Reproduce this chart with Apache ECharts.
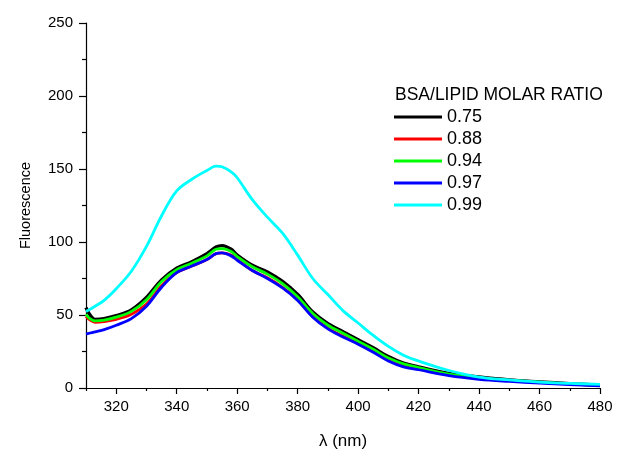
<!DOCTYPE html>
<html>
<head>
<meta charset="utf-8">
<script src="https://cdn.jsdelivr.net/npm/echarts@6/dist/echarts.min.js"></script>
<style>html,body{margin:0;padding:0;background:#fff;overflow:hidden;}#c{width:627px;height:455px;}</style>
</head>
<body>
<div id="c"></div>
<script>
const wavelength = [310,311,313,316,320,325,330,335,340,345,350,353,355,358,360,365,370,375,380,385,390,395,400,405,410,415,420,430,440,450,460,470,480];
const ratio075 = [55,51,47,47.5,49.5,53.5,62,74,82,86.5,92,96.5,97.5,95,91,84,79.5,73,64,52,44,38.5,33,27.5,21.5,17,14.5,10,7.5,5.5,4.2,3,2];
const ratio088 = [49,47,45,45.5,47,50.5,57.5,70,79,83.5,88,92,92.5,91,88,80.5,75.5,69,60.5,49,41,35.5,30.5,25,19.5,15,13,9,6.5,5,3.8,2.7,1.7];
const ratio094 = [50.5,48,46,46.5,48.5,52.5,60.5,73,81,85.5,90.5,95,95.5,93.5,90,83,78,71.5,62.5,51,43,37.5,32,26.5,20.5,16.5,14,9.5,7,5.2,4,2.8,1.8];
const ratio097 = [37,37.5,38.5,40,43,47.5,56,69,79,83.5,88,92,92.5,90.5,87.5,80.5,75,68.5,60,48.5,40.5,35,30,24.5,18.5,14.5,12.5,8.5,6,4.5,3.3,2.4,1.5];
const ratio099 = [52.5,53.5,56,60,68,80,97,118,135,143,149,152,151.5,148,144,129,117,106,91,75,64,53,44.5,36,28.5,22.5,18.5,12,7.5,5.5,4,3.2,2.5];
const seriesNames = ['0.75','0.88','0.94','0.97','0.99'];
const seriesColors = ['#000000','#ff0000','#00ff00','#0000ff','#00ffff'];
const seriesValues = [ratio075, ratio088, ratio094, ratio097, ratio099];
const xMajorTicks = [320,340,360,380,400,420,440,460,480];
const xMinorTicks = [310,330,350,370,390,410,430,450,470];
const legendTitle = 'BSA/LIPID MOLAR RATIO';

const FONT = 'Liberation Sans, Arial, sans-serif';
const chart = echarts.init(document.getElementById('c'), null, {renderer: 'canvas'});
const series = seriesNames.map((n, i) => ({
  name: n,
  type: 'line',
  smooth: 0.35,
  showSymbol: false,
  symbol: 'none',
  data: wavelength.map((x, j) => [x, seriesValues[i][j]]),
  lineStyle: {color: seriesColors[i], width: i === 0 ? 3.4 : 2.8},
  itemStyle: {color: seriesColors[i]},
  animation: false
}));
chart.setOption({
  animation: false,
  backgroundColor: '#ffffff',
  textStyle: {fontFamily: FONT},
  title: {
    text: legendTitle,
    left: 395, top: 86, padding: 0,
    textStyle: {fontFamily: FONT, fontSize: 17.5, fontWeight: 'normal', color: '#000'}
  },
  legend: {
    orient: 'vertical',
    left: 394, top: 106, padding: 0,
    icon: 'rect',
    itemWidth: 48, itemHeight: 3,
    itemGap: 0,
    textStyle: {fontFamily: FONT, fontSize: 18, color: '#000', lineHeight: 22, padding: [0,0,0,0]},
    data: seriesNames
  },
  grid: {left: 86, right: 27, top: 23, bottom: 62, containLabel: false},
  xAxis: [{
    type: 'value', min: 310, max: 480,
    name: 'λ (nm)', nameLocation: 'middle', nameGap: 45,
    nameTextStyle: {fontFamily: FONT, fontSize: 17, color: '#000'},
    axisLine: {show: true, lineStyle: {color: '#000', width: 1.2}},
    axisTick: {show: true, inside: false, length: 6, customValues: xMajorTicks, lineStyle: {color: '#000', width: 1.2}},
    axisLabel: {customValues: xMajorTicks, margin: 11, fontFamily: FONT, fontSize: 15, color: '#000'},
    splitLine: {show: false}
  }, {
    type: 'value', min: 310, max: 480, position: 'bottom',
    axisLine: {show: false},
    axisTick: {show: true, inside: false, length: 3, customValues: xMinorTicks, lineStyle: {color: '#000', width: 1.2}},
    axisLabel: {show: false},
    splitLine: {show: false}
  }],
  yAxis: {
    type: 'value', min: 0, max: 250, interval: 50,
    name: 'Fluorescence', nameLocation: 'middle', nameGap: 53,
    nameTextStyle: {fontFamily: FONT, fontSize: 14.5, color: '#000'},
    axisLine: {show: true, lineStyle: {color: '#000', width: 1.2}},
    axisTick: {show: true, inside: false, length: 7, lineStyle: {color: '#000', width: 1.2}},
    minorTick: {show: true, splitNumber: 2, length: 4, lineStyle: {color: '#000', width: 1.2}},
    axisLabel: {margin: 13, fontFamily: FONT, fontSize: 15, color: '#000'},
    splitLine: {show: false}
  },
  series: series
});
</script>
</body>
</html>
